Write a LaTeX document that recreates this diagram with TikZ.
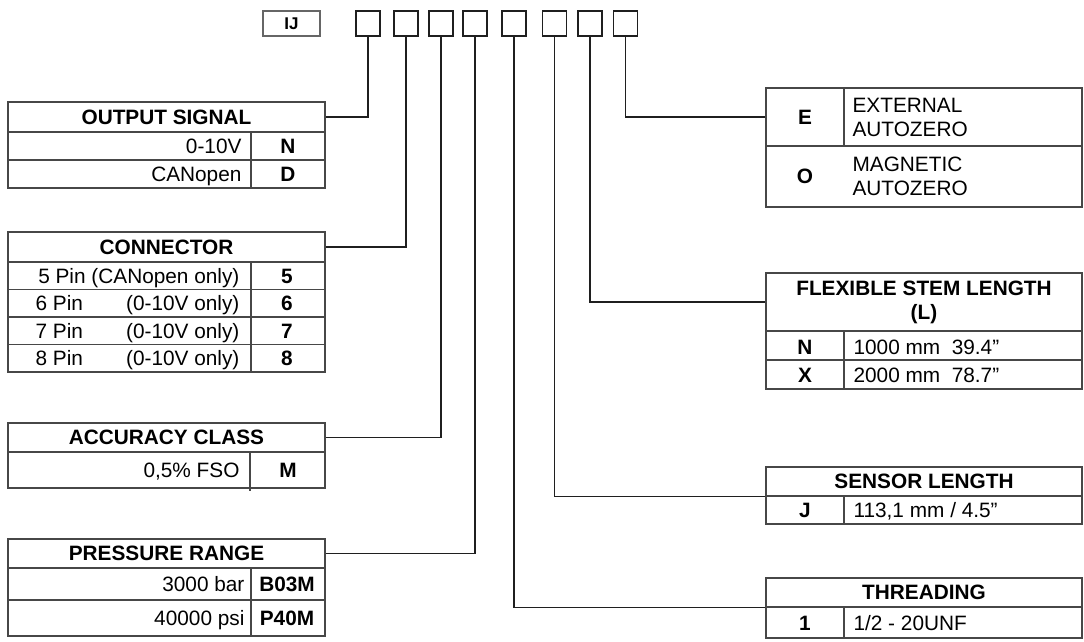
\documentclass[tikz,border=0pt]{standalone}
\usepackage{fontspec}
\setmainfont{Liberation Sans}
\usetikzlibrary{positioning}

\begin{document}
\begin{tikzpicture}[x=1pt, y=-1pt, line width=1.1pt, every node/.style={inner sep=0pt, font=\fontsize{20.8}{24}\selectfont}]
      \colorlet{rulecol}{black!72} \colorlet{wirecol}{black!88}
      \tikzset{
        codebox/.style={draw=wirecol, minimum width=24pt, minimum height=25pt},
        headcell/.style={draw=rulecol, font=\bfseries\fontsize{20.8}{24}\selectfont, align=center},
        codetext/.style={font=\bfseries\fontsize{20.8}{24}\selectfont}
      }
      \useasboundingbox (0,0) rectangle (1084,642);

      \node[draw=black!60, line width=1.2pt, minimum width=57pt, minimum height=25pt, font=\bfseries\fontsize{17}{20}\selectfont] (prefix) at (291.5,23.5) {IJ};
      \foreach \x/\i in {368/1, 406/2, 441/3, 475/4, 514/5, 554.5/6, 590/7, 625.5/8} {
        \node[codebox] (box\i) at (\x,23.5) {};
      }

      \node[headcell, minimum width=317pt, minimum height=30pt] (outhead) at (166.5,117) {OUTPUT SIGNAL};
      \draw[rulecol] (8,132) rectangle (325,188) (8,160) -- (325,160) (251,132) -- (251,188);
      \foreach \y/\t/\c in {153.4/0-10V/N, 181.4/CANopen/D} {
        \node[anchor=base east] (out\c) at (242,\y) {\t};
        \node[codetext, anchor=base] (outcode\c) at (288,\y) {\c};
      }

      \node[headcell, minimum width=317pt, minimum height=30pt] (conhead) at (166.5,247) {CONNECTOR};
      \draw[rulecol] (8,262) rectangle (325,372) (251,262) -- (251,372);
      \foreach \y in {289.5, 317, 344.5} {
        \draw[rulecol] (8,\y) -- (325,\y);
      }
      \node[anchor=base east] (pin5) at (240,283.2) {5 Pin (CANopen only)};
      \node[codetext, anchor=base] (code5) at (287,283.2) {5};
      \foreach \y/\p in {310.7/6, 338.2/7, 365.7/8} {
        \node[anchor=base west] (pin\p) at (35,\y) {\p\ Pin};
        \node[anchor=base east] (only\p) at (240,\y) {(0-10V only)};
        \node[codetext, anchor=base] (code\p) at (287,\y) {\p};
      }

      \node[headcell, minimum width=317pt, minimum height=29pt] (acchead) at (166.5,437.5) {ACCURACY CLASS};
      \draw[rulecol] (8,452) rectangle (325,488) (250,452) -- (250,491);
      \node[anchor=base east] (accval) at (240,477.5) {0,5\% FSO};
      \node[codetext, anchor=base] (acccode) at (288,477.5) {M};

      \node[headcell, minimum width=317pt, minimum height=29pt] (preshead) at (166.5,553.5) {PRESSURE RANGE};
      \draw[rulecol] (8,568) rectangle (325,636) (8,600) -- (325,600) (251,568) -- (251,636);
      \foreach \y/\t/\c in {591.5/3000 bar/B03M, 625.5/40000 psi/P40M} {
        \node[anchor=base east] (pres\c) at (245,\y) {\t};
        \node[codetext, anchor=base] (prescode\c) at (287,\y) {\c};
      }

      \node[draw=rulecol, codetext, minimum width=78pt, minimum height=58pt] (ecell) at (805,117) {E};
      \node[draw=rulecol, minimum width=238pt, minimum height=58pt] (etextcell) at (963,117) {};
      \node[anchor=west, align=left] (etext) at (852,117) {EXTERNAL\\AUTOZERO};
      \draw[rulecol] (766,146) rectangle (1082,207);
      \node[codetext] (ocode) at (805,176.5) {O};
      \node[anchor=west, align=left] (otext) at (852,176.5) {MAGNETIC\\AUTOZERO};

      \node[headcell, minimum width=316pt, minimum height=58pt] (flexhead) at (924,302) {FLEXIBLE STEM LENGTH\\(L)};
      \draw[rulecol] (766,331) rectangle (1082,389) (766,360) -- (1082,360) (844,331) -- (844,389);
      \foreach \y/\c/\t in {354/N/1000 mm\ \ 39.4”, 382/X/2000 mm\ \ 78.7”} {
        \node[codetext, anchor=base] (flexcode\c) at (805,\y) {\c};
        \node[anchor=base west] (flexval\c) at (853,\y) {\t};
      }

      \node[headcell, minimum width=316pt, minimum height=29pt] (senshead) at (924,481.5) {SENSOR LENGTH};
      \draw[rulecol] (766,496) rectangle (1082,524) (844,496) -- (844,524);
      \node[codetext, anchor=base] (senscode) at (805,517.5) {J};
      \node[anchor=base west] (sensval) at (853,517.5) {113,1 mm / 4.5”};

      \node[headcell, minimum width=316pt, minimum height=29pt] (thrhead) at (924,592.5) {THREADING};
      \draw[rulecol] (766,607) rectangle (1082,638) (844,607) -- (844,638);
      \node[codetext, anchor=base] (thrcode) at (805,630) {1};
      \node[anchor=base west] (thrval) at (853,630) {1/2 - 20UNF};

      \draw[wirecol] (box1.south) |- (outhead.east);
      \draw[wirecol] (box2.south) |- (conhead.east);
      \draw[wirecol] (box3.south) |- (acchead.east);
      \draw[wirecol] (box4.south) |- (preshead.east);
      \draw[wirecol] (box5.south) |- (thrhead.south west);
      \draw[wirecol] (box6.south) |- (senshead.south west);
      \draw[wirecol] (box7.south) |- (flexhead.west);
      \draw[wirecol] (box8.south) |- (ecell.west);
    \end{tikzpicture}
\end{document}
